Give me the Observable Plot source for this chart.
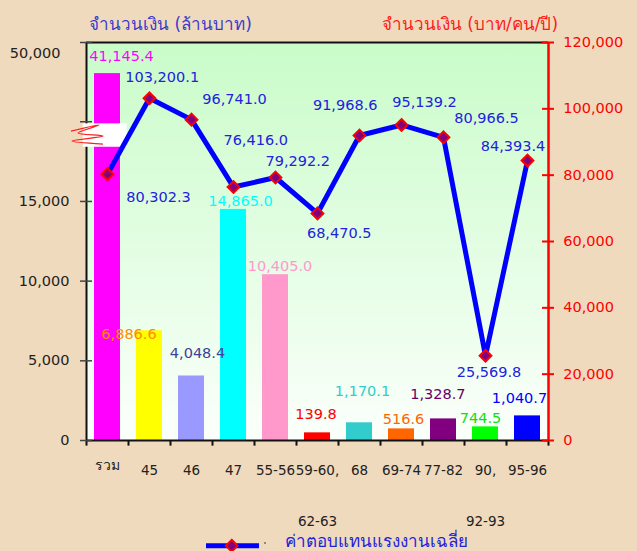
<!DOCTYPE html>
<html><head><meta charset="utf-8">
<script src="https://cdn.jsdelivr.net/npm/d3@7"></script>
<script src="https://cdn.jsdelivr.net/npm/@observablehq/plot@0.6"></script>
<style>
html,body{margin:0;padding:0;background:#f0dabd;}
#chart svg{display:block;}
</style></head><body><div id="chart"></div>
<script>
// ---- data ----
const categories = ["รวม","45","46","47","55-56","59-60, 62-63","68","69-74","77-82","90, 92-93","95-96"];
const xLabelTop = ["รวม","45","46","47","55-56","59-60,","68","69-74","77-82","90,","95-96"];
const xLabelBottom = ["","","","","","62-63","","","","92-93",""];
const barValues = [41145.4, 6886.6, 4048.4, 14500, 10405.0, 480, 1110, 730, 1355, 855, 1545];
const barLabels = ["41,145.4","6,886.6","4,048.4","14,865.0","10,405.0","139.8","1,170.1","516.6","1,328.7","744.5","1,040.7"];
const barColors = ["#ff00ff","#ffff00","#9999ff","#00ffff","#ff99cc","#ff0000","#33cccc","#ff6600","#800080","#00ff00","#0000ff"];
const barLabelColors = ["#ff00ff","#ff8c00","#40409c","#00ffff","#ff99cc","#ff0000","#33cccc","#ff6600","#660066","#11dd11","#0000ff"];
const wageValues = [80302.3,103200.1,96741.0,76416.0,79292.2,68470.5,91968.6,95139.2,91400,25569.8,84393.4];
const wageLabels = ["80,302.3","103,200.1","96,741.0","76,416.0","79,292.2","68,470.5","91,968.6","95,139.2","80,966.5","25,569.8","84,393.4"];
const leftTicks = [0,5000,10000,15000,20000];
const leftTickLabels = ["0","5,000","10,000","15,000",""];
const leftTopTick = 50000;
const leftTopLabel = "50,000";
const rightTicks = [0,20000,40000,60000,80000,100000,120000];
const leftTitle = "จำนวนเงิน (ล้านบาท)";
const rightTitle = "จำนวนเงิน (บาท/คน/ปี)";
const legendLabel = "ค่าตอบแทนแรงงานเฉลี่ย";
const breakRange = [18400, 19870];

// label nudges (pixels) to follow the reference's hand-placed labels
const barLabelNudge = [[14,-17.6],[-20.5,4],[6,-23],[7,-8.3],[4.5,-8],[-1.5,-18],[3,-31],[2,-9.4],[-5.6,-24.4],[-5,-9],[-8,-17.4]];
const wageLabelNudge = [[51,23.4],[12.7,-20.6],[43,-20.7],[22.2,-46.7],[22.3,-16],[21.7,19.6],[-14.3,-30],[23,-22.6],[43,-19],[3.5,16.4],[-14.5,-14.7]];

// left (broken) axis -> shared y units (right axis scale)
const toY = d3.scaleLinear([0, 20000, 50000], [0, 96100, 116700]);

const FONT = "'DejaVu Sans', Tahoma, Verdana, sans-serif";
const W = 637, H = 551, mL = 86, mR = 89, mT = 42, mB = 111;
const FW = W - mL - mR;
const step = FW / categories.length;

const marks = [
  Plot.frame({fill: "#ccffcc"}),
  Plot.barY(categories, {x: d => d, y: (d, i) => toY(barValues[i]), fill: (d, i) => barColors[i]}),
  // frame lines
  Plot.ruleY([120000], {stroke: "#111", strokeWidth: 2}),
  Plot.ruleX([categories[0]], {x: d => d, dx: -step / 2, stroke: "#111", strokeWidth: 2}),
  Plot.ruleY([0], {stroke: "#111", strokeWidth: 2}),
  Plot.ruleX([categories[categories.length - 1]], {x: d => d, dx: step / 2, stroke: "#ff0000", strokeWidth: 2.5}),
  // x boundary ticks
  Plot.ruleX(categories, {x: d => d, dx: -step / 2, y1: 0, y2: -1700, stroke: "#111", strokeWidth: 2}),
  Plot.ruleX([categories[categories.length - 1]], {x: d => d, dx: step / 2, y1: 0, y2: -1700, stroke: "#111", strokeWidth: 2}),
  // left ticks
  Plot.tickY(leftTicks, {y: d => toY(d), stroke: "#444", strokeWidth: 1.5, insetLeft: -6, insetRight: FW - 6}),
  Plot.tickY([120000], {y: d => d, stroke: "#444", strokeWidth: 1.5, insetLeft: -6, insetRight: FW - 6}),
  Plot.text(leftTicks, {y: d => toY(d), frameAnchor: "left", dx: -17, textAnchor: "end", lineAnchor: "middle", text: (d, i) => leftTickLabels[i], fill: "#222", fontSize: 14.5}),
  Plot.text([leftTopTick], {y: d => toY(d), frameAnchor: "left", dx: -26, textAnchor: "end", lineAnchor: "middle", text: () => leftTopLabel, fill: "#222", fontSize: 14.5}),
  // right ticks
  Plot.tickY(rightTicks, {y: d => d, stroke: "#ff0000", strokeWidth: 2, insetLeft: FW - 6, insetRight: -6}),
  Plot.text(rightTicks, {y: d => d, frameAnchor: "right", dx: 14.7, textAnchor: "start", lineAnchor: "middle", text: d => d3.format(",")(d), fill: "#ff0000", fontSize: 14.5}),
  // break box
  Plot.barY([categories[0]], {x: d => d, y1: toY(breakRange[0]), y2: toY(breakRange[1]), fill: "white", insetLeft: -11.3, insetRight: -6.7}),
  // x labels
  Plot.text(categories.slice(1), {x: d => d, frameAnchor: "bottom", dy: 30, lineAnchor: "middle", text: (d, i) => xLabelTop[i + 1], fill: "#222", fontSize: 13.5}),
  Plot.text([categories[0]], {x: d => d, frameAnchor: "bottom", dy: 25, lineAnchor: "middle", text: () => xLabelTop[0], fill: "#222", fontSize: 14}),
  Plot.text(categories, {x: d => d, frameAnchor: "bottom", dy: 81, lineAnchor: "middle", text: (d, i) => xLabelBottom[i], fill: "#222", fontSize: 13.5}),
  // line + markers
  Plot.line(categories, {x: d => d, y: (d, i) => wageValues[i], stroke: "#0000ff", strokeWidth: 5}),
  Plot.dot(categories, {x: d => d, y: (d, i) => wageValues[i], symbol: "diamond2", r: 5.3, fill: "#800080", stroke: "#ff0000", strokeWidth: 2}),
  // titles
  Plot.text([leftTitle], {frameAnchor: "top-left", dx: 84, dy: -18, textAnchor: "middle", lineAnchor: "middle", text: d => d, fill: "#3a3acc", fontSize: 17}),
  Plot.text([rightTitle], {frameAnchor: "top-left", dx: 383.5, dy: -18, textAnchor: "middle", lineAnchor: "middle", text: d => d, fill: "#ff1a1a", fontSize: 17}),
  // bar labels
  ...barLabels.map((t, i) => Plot.text([t], {x: () => categories[i], y: () => toY(barValues[i]), text: d => d,
      dx: barLabelNudge[i][0], dy: barLabelNudge[i][1], fill: barLabelColors[i], fontSize: 14.5})),
  // wage labels
  ...wageLabels.map((t, i) => Plot.text([t], {x: () => categories[i], y: () => wageValues[i], text: d => d,
      dx: wageLabelNudge[i][0], dy: wageLabelNudge[i][1], fill: "#2222dd", fontSize: 14.5}))
];

const svg = Plot.plot({
  width: W, height: H,
  marginLeft: mL, marginRight: mR, marginTop: mT, marginBottom: mB,
  style: {background: "transparent", fontFamily: FONT, overflow: "visible"},
  x: {domain: categories, paddingInner: 0.38, paddingOuter: 0.19, axis: null},
  y: {domain: [0, 120000], axis: null},
  color: {type: "identity"},
  marks
});

// gradient for plot area
const s = d3.select(svg);
const defs = s.insert("defs", ":first-child");
const grad = defs.append("linearGradient").attr("id", "bgGrad").attr("x1", 0).attr("y1", 0).attr("x2", 0).attr("y2", 1);
grad.append("stop").attr("offset", "0%").attr("stop-color", "#c9fcc9");
grad.append("stop").attr("offset", "100%").attr("stop-color", "#fbfffb");
s.selectAll('[aria-label="frame"], [aria-label="frame"] rect').attr("fill", "url(#bgGrad)");

// axis break squiggle (decorative), placed relative to the break box
const xs = svg.scale("x"), ys = svg.scale("y");
const bx = xs.apply(categories[0]) - 11.3;
const by = ys.apply(toY(breakRange[1]));
const zig = [[-11.7,7.7],[16.3,1.7],[-4.7,9.7],[20.3,12.7],[-10.7,17.7],[20.3,20.7]].map(([dx, dy]) => [bx + dx, by + dy]);
s.append("path").attr("d", d3.line().curve(d3.curveCatmullRom)(zig)).attr("fill", "none").attr("stroke", "#ff2020").attr("stroke-width", 1.3);

// legend
const lg = s.append("g");
lg.append("line").attr("x1", 206).attr("x2", 259).attr("y1", 545.7).attr("y2", 545.7).attr("stroke", "#0000ff").attr("stroke-width", 5);
lg.append("path").attr("d", d3.symbol(d3.symbolDiamond2, Math.PI * 5.3 * 5.3)()).attr("transform", "translate(231.7,545.7)")
  .attr("fill", "#800080").attr("stroke", "#ff0000").attr("stroke-width", 2);
lg.append("circle").attr("cx", 265).attr("cy", 543).attr("r", 0.8).attr("fill", "#222");
lg.append("text").attr("x", 285).attr("y", 547).attr("fill", "#2222dd").attr("font-size", 17).attr("text-anchor", "start")
  .attr("font-family", FONT).text(legendLabel);

document.getElementById("chart").appendChild(svg);
</script>
</body></html>
